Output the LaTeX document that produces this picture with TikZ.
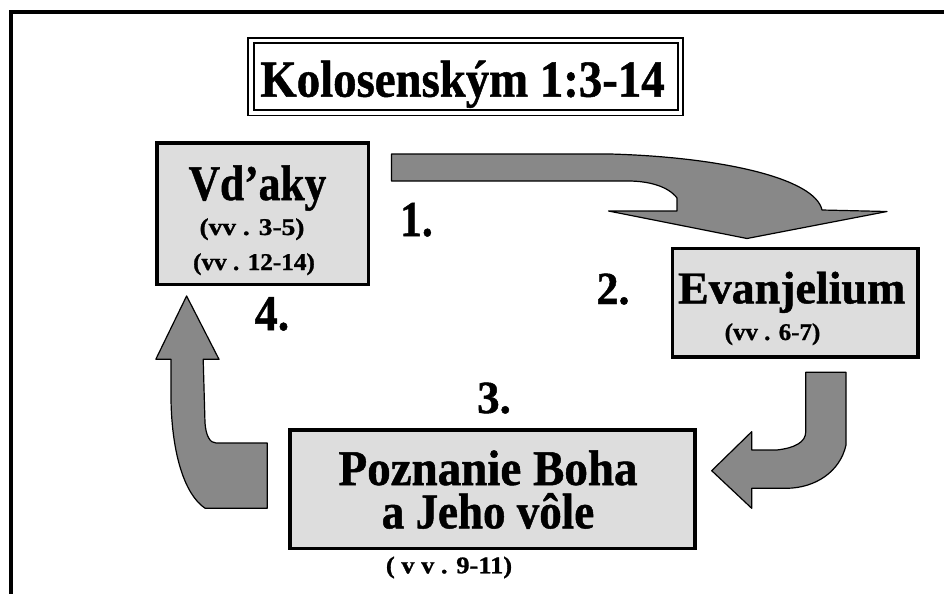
\documentclass[tikz,border=0pt]{standalone}
\usepackage{fontspec}
\setmainfont{Liberation Serif}[BoldFeatures={FakeBold=1}]
\usepackage{graphicx}
\definecolor{boxgray}{RGB}{221,221,221}
\definecolor{arrowgray}{RGB}{136,136,136}
\newcommand{\Tx}[3]{\scalebox{#2}[1]{\fontsize{#1}{#1}\selectfont\bfseries #3}}
\begin{document}
\begin{tikzpicture}[x=1pt,y=-1pt,
  box/.style={draw=black, line width=3.5pt, fill=boxgray, rectangle, inner sep=0pt, outer sep=0pt},
  titlebox/.style={draw=black, line width=2pt, fill=white, rectangle, inner sep=0pt, outer sep=0pt},
  lbl/.style={anchor=base, inner sep=0pt, outer sep=0pt},
  blockarrow/.style={draw=black, line width=1.2pt, fill=arrowgray, line join=round}]
\useasboundingbox (0,0) rectangle (944,594);
% frame
\draw[line width=4pt] (944,12.5) -- (11,12.5) -- (11,594);
% title
\node[titlebox, minimum width=424pt, minimum height=66.5pt] (title) at (465.5,76.75) {};
\draw[line width=1.5pt] ([shift={(-5.5pt,5.5pt)}]title.north west) rectangle ([shift={(5.5pt,-5.5pt)}]title.south east);
\node[lbl] (titleT) at (462.5,96.7) {\Tx{52}{0.9}{Kolosenským 1:3-14}};
% boxes
\node[box, minimum width=211.5pt, minimum height=141.5pt] (vdaky) at (262.5,213.5) {};
\node[box, minimum width=245.8pt, minimum height=108.8pt] (evan) at (795.3,302.8) {};
\node[box, minimum width=404.9pt, minimum height=118.2pt] (pozn) at (492.5,489.2) {};
% arrows
\draw[blockarrow] (391.5,154) -- (610,154) .. controls (720,157) and (815,178) .. (822,210)
  -- (887,211.5) -- (747,238.5) -- (608.5,211) -- (677,211) -- (677,198)
  .. controls (668,186) and (648,181) .. (628,181) -- (391.5,181) -- cycle;
\draw[blockarrow] (805.7,372.3) -- (846,372.3) -- (846,445) .. controls (840,472) and (815,488) .. (786.7,488.3)
  -- (751.7,488.3) -- (751.7,508.3) -- (711.7,470.7) -- (751.7,431.7) -- (751.7,450) -- (776.7,450)
  .. controls (795,448) and (805.7,442) .. (805.7,432) -- cycle;
\draw[blockarrow] (186.6,296) -- (219,359.3) -- (203.2,359.3) -- (205,423)
  .. controls (206,436) and (210,443) .. (216,443) -- (267.3,443) -- (267.3,508.3) -- (205.2,508.3)
  .. controls (185,495) and (172,455) .. (171,400) -- (171,359.3) -- (155.8,359.3) -- cycle;
% texts
\node[lbl] (vdakyT) at (257.5,200) {\Tx{50}{0.87}{Vd’aky}};
\node[lbl] (vdakyA) at (252,235) {\Tx{24}{1.14}{(vv . 3-5)}};
\node[lbl] (vdakyB) at (254,270) {\Tx{24}{1.05}{(vv . 12-14)}};
\node[lbl] (evanT) at (791.7,303.3) {\Tx{45.5}{1.01}{Evanjelium}};
\node[lbl] (evanA) at (772.5,340) {\Tx{24}{1.04}{(vv . 6-7)}};
\node[lbl, align=center, font={\fontsize{50}{43.3}\selectfont\lineskiplimit=-100pt}] (poznT) at (488,528.3)
  {\Tx{50}{0.94}{Poznanie Boha}\\\Tx{50}{0.9}{a Jeho vôle}};
\node[lbl] (poznA) at (449,573.3) {\Tx{24}{1.1}{( v v . 9-11)}};
\node[lbl] (n1) at (416.5,236) {\Tx{50}{0.87}{1.}};
\node[lbl] (n2) at (613,304) {\Tx{46}{0.96}{2.}};
\node[lbl] (n3) at (494,413) {\Tx{46}{0.98}{3.}};
\node[lbl] (n4) at (272,330) {\Tx{50}{0.92}{4.}};
\end{tikzpicture}
\end{document}
